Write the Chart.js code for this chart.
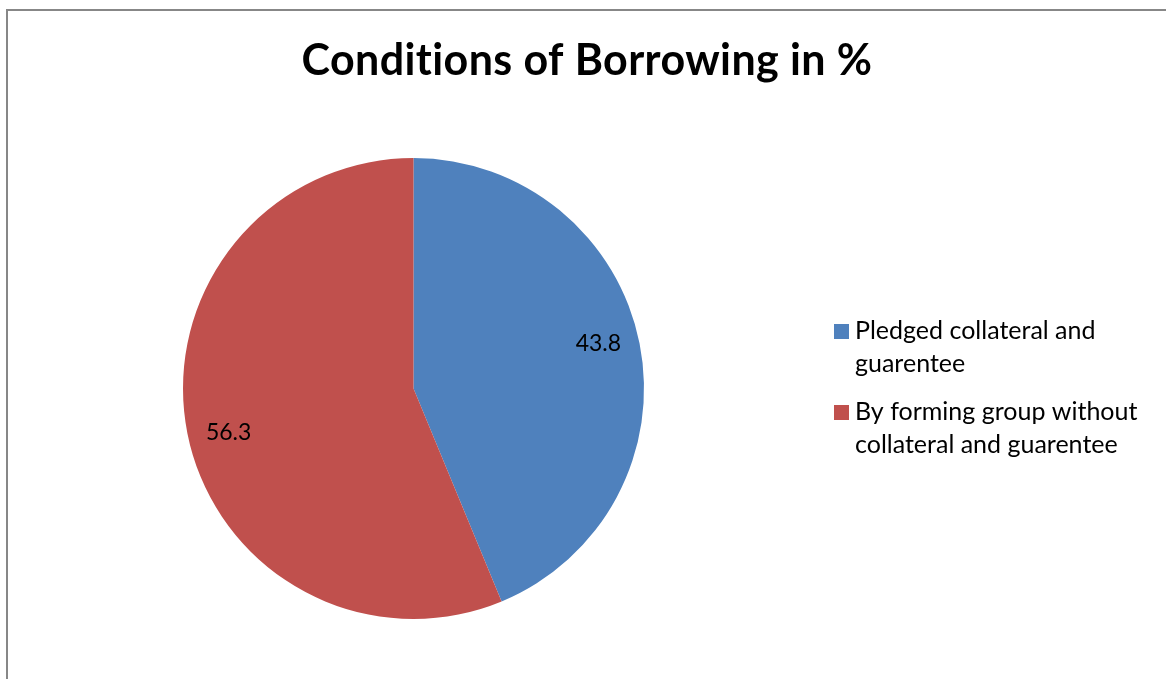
<!DOCTYPE html>
<html>
<head>
<meta charset="utf-8">
<title>Conditions of Borrowing in %</title>
<script src="https://cdn.jsdelivr.net/npm/chart.js@4"></script>
<style>
  html, body { margin: 0; padding: 0; background: #fff; }
  #wrap { position: relative; width: 1166px; height: 679px; overflow: hidden; }
  /* outer chart frame, only the left and top edges are on screen */
  #frame { position: absolute; left: 6px; top: 9px; width: 1300px; height: 800px;
           border-left: 2px solid #878787; border-top: 2px solid #878787; }
  #pieChart { position: absolute; left: 0; top: 0; }
</style>
</head>
<body>
<div id="wrap">
  <div id="frame"></div>
  <canvas id="pieChart" width="1166" height="679"></canvas>
</div>
<script>
// dados do gráfico
const chartTitle = 'Conditions of Borrowing in %';
const categories = [
    ['Pledged collateral and', 'guarentee'],
    ['By forming group without', 'collateral and guarentee']
];
const shares = [43.8, 56.3];
const sliceColors = ['#4F81BD', '#C0504D'];

const FONT = 'Lato, "Open Sans", sans-serif';

// título, rótulos de valor e legenda desenhados no canvas
const pieText = {
    id: 'pieText',
    afterDraw(chart) {
        const ctx = chart.ctx;
        ctx.save();
        ctx.fillStyle = '#000';

        // título (letterSpacing evita a ligadura "ti")
        ctx.font = 'bold 43px ' + FONT;
        ctx.letterSpacing = '0.4px';
        ctx.textAlign = 'center';
        ctx.textBaseline = 'alphabetic';
        ctx.fillText(chartTitle, 587, 75);
        ctx.letterSpacing = '0px';

        // valores dentro das fatias
        const meta = chart.getDatasetMeta(0);
        ctx.font = '23px ' + FONT;
        ctx.textBaseline = 'middle';
        meta.data.forEach((arc, i) => {
            const p = arc.getProps(['x', 'y', 'startAngle', 'endAngle', 'outerRadius'], true);
            const mid = (p.startAngle + p.endAngle) / 2 - 0.04;
            const r = p.outerRadius * 0.825;
            ctx.fillText(chart.data.datasets[0].data[i].toFixed(1),
                p.x + Math.cos(mid) * r, p.y + Math.sin(mid) * r);
        });

        // legenda à direita
        ctx.font = '25px ' + FONT;
        ctx.textAlign = 'left';
        ctx.textBaseline = 'alphabetic';
        const lineGap = 32.5;
        let base = 339;
        chart.data.labels.forEach((lines, i) => {
            ctx.fillStyle = chart.data.datasets[0].backgroundColor[i];
            ctx.fillRect(834, base - 15, 15, 15);
            ctx.fillStyle = '#000';
            lines.forEach((line, j) => {
                ctx.fillText(line, 855, base + j * lineGap);
            });
            base += (lines.length - 1) * lineGap + 48.5;
        });
        ctx.restore();
    }
};

const ctx = document.getElementById('pieChart').getContext('2d');
window.chartInstancePie = new Chart(ctx, {
    type: 'pie',
    data: {
        labels: categories,
        datasets: [{
            data: shares,
            backgroundColor: sliceColors,
            borderWidth: 0
        }]
    },
    options: {
        responsive: false,
        animation: false,
        layout: { padding: { left: 183, right: 522, top: 158, bottom: 60 } },
        plugins: {
            legend: { display: false },
            title: { display: false },
            tooltip: { enabled: false }
        }
    },
    plugins: [pieText]
});
</script>
</body>
</html>
